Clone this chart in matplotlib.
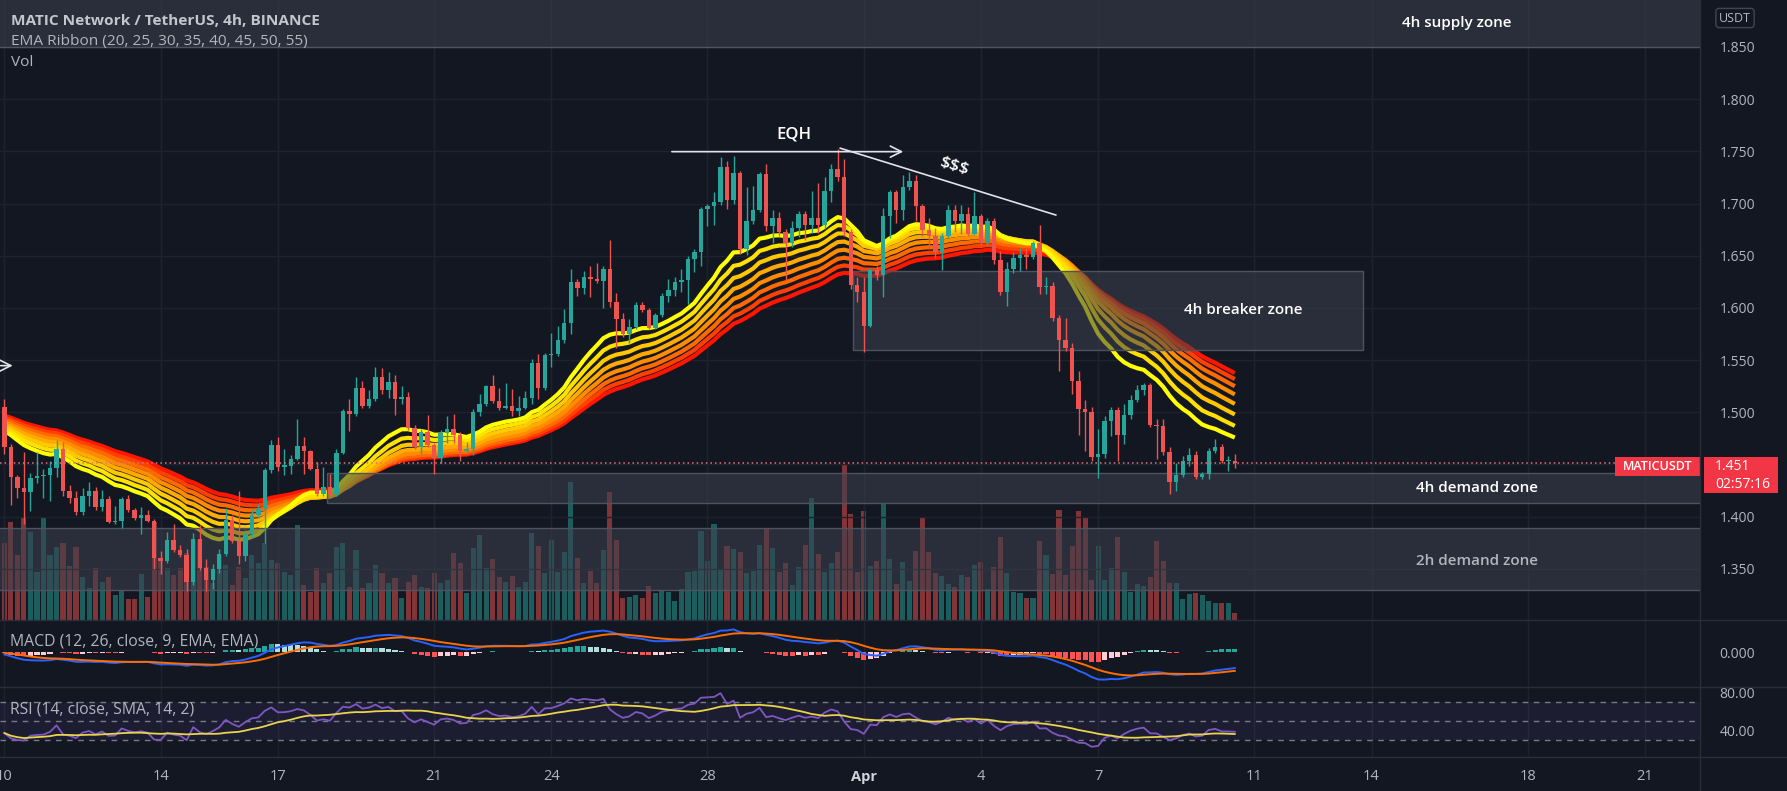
import numpy as np
import matplotlib
matplotlib.use("Agg")
import matplotlib.pyplot as plt
from matplotlib.patches import Rectangle
from matplotlib.transforms import blended_transform_factory

# ---- data (4h candles from Mar 10 00:00) ----
first_open = 1.505
close = [
    1.467, 1.438, 1.427, 1.424, 1.437, 1.439, 1.440, 1.447, 1.465, 1.425,
    1.418, 1.404, 1.420, 1.425, 1.409, 1.417, 1.395, 1.396, 1.417, 1.406,
    1.399, 1.402, 1.396, 1.360, 1.358, 1.378, 1.368, 1.363, 1.337, 1.379,
    1.351, 1.339, 1.350, 1.364, 1.397, 1.377, 1.362, 1.383, 1.402, 1.407,
    1.445, 1.469, 1.448, 1.449, 1.455, 1.468, 1.463, 1.446, 1.422, 1.428,
    1.422, 1.461, 1.501, 1.498, 1.523, 1.506, 1.513, 1.534, 1.521, 1.529,
    1.513, 1.515, 1.485, 1.467, 1.481, 1.469, 1.456, 1.480, 1.484, 1.478,
    1.463, 1.465, 1.500, 1.508, 1.525, 1.511, 1.504, 1.506, 1.501, 1.504,
    1.514, 1.547, 1.523, 1.555, 1.556, 1.569, 1.586, 1.625, 1.619, 1.630,
    1.628, 1.626, 1.637, 1.606, 1.589, 1.575, 1.582, 1.603, 1.598, 1.581,
    1.593, 1.611, 1.617, 1.625, 1.627, 1.647, 1.654, 1.695, 1.698, 1.701,
    1.735, 1.703, 1.729, 1.656, 1.683, 1.694, 1.728, 1.678, 1.686, 1.673,
    1.662, 1.677, 1.690, 1.679, 1.686, 1.679, 1.712, 1.733, 1.725, 1.673,
    1.622, 1.615, 1.583, 1.636, 1.632, 1.688, 1.711, 1.694, 1.716, 1.722,
    1.698, 1.675, 1.669, 1.654, 1.669, 1.694, 1.683, 1.690, 1.671, 1.688,
    1.662, 1.683, 1.646, 1.615, 1.637, 1.648, 1.651, 1.649, 1.662, 1.620,
    1.621, 1.590, 1.569, 1.562, 1.530, 1.503, 1.500, 1.457, 1.460, 1.492,
    1.502, 1.478, 1.497, 1.512, 1.521, 1.526, 1.488, 1.487, 1.462, 1.433,
    1.440, 1.453, 1.459, 1.438, 1.441, 1.463, 1.467, 1.453, 1.453, 1.451,
]
high = [
    1.513, 1.470, 1.440, 1.462, 1.442, 1.462, 1.446, 1.453, 1.473, 1.472,
    1.430, 1.425, 1.427, 1.433, 1.428, 1.426, 1.420, 1.410, 1.419, 1.421,
    1.408, 1.409, 1.406, 1.398, 1.367, 1.385, 1.393, 1.373, 1.369, 1.384,
    1.392, 1.359, 1.355, 1.369, 1.408, 1.402, 1.425, 1.387, 1.407, 1.412,
    1.447, 1.473, 1.476, 1.465, 1.459, 1.494, 1.476, 1.464, 1.452, 1.448,
    1.441, 1.465, 1.503, 1.513, 1.534, 1.530, 1.521, 1.543, 1.542, 1.539,
    1.536, 1.525, 1.519, 1.488, 1.484, 1.497, 1.471, 1.483, 1.496, 1.498,
    1.481, 1.472, 1.503, 1.518, 1.526, 1.536, 1.523, 1.528, 1.522, 1.516,
    1.520, 1.551, 1.556, 1.557, 1.576, 1.583, 1.599, 1.637, 1.628, 1.635,
    1.640, 1.643, 1.640, 1.665, 1.614, 1.595, 1.589, 1.606, 1.606, 1.600,
    1.595, 1.614, 1.628, 1.630, 1.637, 1.650, 1.656, 1.697, 1.700, 1.711,
    1.745, 1.741, 1.746, 1.731, 1.716, 1.717, 1.730, 1.738, 1.694, 1.692,
    1.676, 1.683, 1.693, 1.693, 1.712, 1.720, 1.725, 1.738, 1.752, 1.743,
    1.676, 1.630, 1.630, 1.638, 1.640, 1.696, 1.713, 1.713, 1.727, 1.730,
    1.727, 1.700, 1.686, 1.677, 1.672, 1.699, 1.699, 1.699, 1.697, 1.711,
    1.690, 1.686, 1.686, 1.655, 1.644, 1.654, 1.657, 1.657, 1.664, 1.679,
    1.630, 1.625, 1.593, 1.590, 1.566, 1.540, 1.512, 1.505, 1.484, 1.496,
    1.505, 1.505, 1.508, 1.517, 1.526, 1.528, 1.528, 1.494, 1.494, 1.467,
    1.451, 1.458, 1.466, 1.463, 1.443, 1.466, 1.474, 1.470, 1.458, 1.460,
]
low = [
    1.460, 1.411, 1.418, 1.393, 1.405, 1.432, 1.418, 1.415, 1.438, 1.420,
    1.413, 1.402, 1.402, 1.410, 1.406, 1.405, 1.394, 1.393, 1.389, 1.404,
    1.397, 1.383, 1.395, 1.350, 1.345, 1.356, 1.366, 1.361, 1.329, 1.335,
    1.349, 1.329, 1.331, 1.346, 1.362, 1.375, 1.355, 1.358, 1.380, 1.399,
    1.375, 1.442, 1.444, 1.440, 1.441, 1.454, 1.441, 1.445, 1.420, 1.420,
    1.420, 1.420, 1.460, 1.482, 1.496, 1.504, 1.504, 1.511, 1.518, 1.514,
    1.497, 1.508, 1.483, 1.465, 1.460, 1.467, 1.441, 1.451, 1.471, 1.471,
    1.453, 1.461, 1.459, 1.496, 1.506, 1.509, 1.502, 1.503, 1.496, 1.496,
    1.503, 1.508, 1.513, 1.521, 1.543, 1.554, 1.566, 1.575, 1.611, 1.613,
    1.610, 1.624, 1.600, 1.601, 1.562, 1.572, 1.566, 1.580, 1.596, 1.580,
    1.580, 1.591, 1.606, 1.611, 1.615, 1.604, 1.634, 1.640, 1.678, 1.679,
    1.699, 1.695, 1.700, 1.652, 1.651, 1.680, 1.692, 1.674, 1.662, 1.669,
    1.627, 1.658, 1.668, 1.665, 1.672, 1.672, 1.676, 1.701, 1.722, 1.669,
    1.618, 1.606, 1.558, 1.582, 1.627, 1.610, 1.667, 1.681, 1.684, 1.713,
    1.683, 1.669, 1.656, 1.648, 1.636, 1.667, 1.673, 1.671, 1.669, 1.670,
    1.660, 1.659, 1.642, 1.612, 1.602, 1.633, 1.635, 1.637, 1.647, 1.613,
    1.613, 1.587, 1.540, 1.559, 1.518, 1.478, 1.463, 1.453, 1.437, 1.456,
    1.477, 1.453, 1.470, 1.494, 1.510, 1.517, 1.486, 1.455, 1.459, 1.422,
    1.425, 1.438, 1.449, 1.436, 1.436, 1.436, 1.461, 1.451, 1.444, 1.447,
]
volume = [
    7.7, 9.8, 6.5, 10.2, 8.8, 4.8, 10.3, 6.5, 7.3, 7.7,
    5.4, 7.3, 4.3, 3.2, 5.2, 3.8, 4.3, 2.5, 3.0, 2.1,
    2.1, 4.6, 2.3, 9.8, 6.2, 5.2, 4.5, 5.2, 6.7, 8.1,
    8.0, 5.3, 3.7, 6.5, 5.5, 3.5, 5.3, 4.2, 6.5, 5.7,
    7.7, 6.0, 5.7, 4.8, 4.5, 9.5, 3.5, 2.8, 5.2, 3.7,
    4.7, 7.3, 7.7, 3.3, 7.0, 3.2, 3.7, 5.5, 4.7, 3.7,
    4.2, 2.2, 3.8, 4.5, 3.3, 3.2, 4.7, 3.7, 4.0, 6.7,
    5.7, 2.7, 7.2, 8.5, 5.2, 6.1, 4.3, 3.8, 4.4, 3.3,
    3.8, 8.7, 7.4, 4.7, 8.0, 4.8, 6.8, 13.8, 6.2, 3.7,
    4.9, 3.7, 7.0, 12.8, 8.0, 2.2, 2.3, 2.5, 2.2, 3.4,
    2.7, 3.0, 2.8, 1.9, 3.1, 4.8, 4.9, 8.9, 5.9, 9.6,
    5.1, 7.4, 7.1, 6.8, 4.7, 4.9, 7.5, 9.2, 7.2, 4.8,
    5.7, 3.5, 5.3, 7.5, 12.2, 6.6, 4.8, 5.7, 6.8, 15.5,
    10.6, 4.8, 10.9, 5.4, 5.9, 11.7, 6.1, 3.6, 5.8, 3.9,
    6.9, 10.2, 6.8, 4.7, 4.4, 3.6, 3.3, 4.5, 4.3, 5.5,
    5.8, 3.1, 5.3, 8.3, 4.7, 2.8, 2.7, 2.2, 2.2, 7.9,
    6.5, 4.6, 11.0, 4.5, 7.4, 10.9, 10.2, 4.0, 7.4, 4.0,
    5.2, 8.3, 4.8, 2.8, 3.6, 3.4, 4.3, 7.9, 5.9, 3.7,
    3.7, 2.1, 2.6, 2.7, 2.5, 1.9, 1.7, 1.7, 1.7, 0.7,
]

ribbon_spans = [20, 25, 30, 35, 40, 45, 50, 55]
ribbon_seed = [1.484, 1.486, 1.488, 1.490, 1.492, 1.494, 1.496, 1.498]
ribbon_colors = ["#ffff00", "#ffe100", "#ffc800", "#ffaa00",
                 "#ff8c00", "#ff6a00", "#ff4000", "#ff1500"]
macd_seed = (1.487, 1.490, -0.001)      # ema12, ema26, signal at start
rsi_seed = (0.0050, 0.0055)             # avg gain, avg loss at start

date_pos = [0, 24, 42, 66, 84, 108, 132, 150, 168, 192, 210, 234, 252]
date_labels = ["10", "14", "17", "21", "24", "28", "Apr", "4", "7", "11", "14", "18", "21"]
price_ticks = [1.35, 1.40, 1.45, 1.50, 1.55, 1.60, 1.65, 1.70, 1.75, 1.80, 1.85]
price_tick_labels = ["1.350", "1.400", "", "1.500", "1.550", "1.600", "1.650",
                     "1.700", "1.750", "1.800", "1.850"]

# zones: (label, x_start, x_end, price_low, price_high)
zones = [
    ("4h supply zone", -1, 262, 1.850, 1.90),
    ("4h breaker zone", 130.4, 208.7, 1.560, 1.635),
    ("4h demand zone", 49.6, 262, 1.413, 1.442),
    ("2h demand zone", -1, 262, 1.330, 1.389),
]
zone_labels = [
    ("4h supply zone", 223.1, 1.8727, "#ffffff"),
    ("4h breaker zone", 190.3, 1.5976, "#ffffff"),
    ("4h demand zone", 226.2, 1.4273, "#ffffff"),
    ("2h demand zone", 226.2, 1.3574, "#b2b5be"),
]

# ---- indicators ----
n = len(close)
idx = np.arange(n)
c = np.array(close)
o = np.array([first_open] + close[:-1])
h = np.maximum(np.array(high), np.maximum(o, c))
l = np.minimum(np.array(low), np.minimum(o, c))
up = c >= o


def ema(values, span, seed):
    alpha = 2.0 / (span + 1)
    out = []
    prev = seed
    for v in values:
        prev = prev + alpha * (v - prev)
        out.append(prev)
    return np.array(out)


ribbon = [ema(c, s, seed) for s, seed in zip(ribbon_spans, ribbon_seed)]

macd = ema(c, 12, macd_seed[0]) - ema(c, 26, macd_seed[1])
signal = ema(macd, 9, macd_seed[2])
hist = macd - signal

gain, loss = rsi_seed
rsi = []
prev = first_open
for v in c:
    ch = v - prev
    gain = (gain * 13 + max(ch, 0)) / 14
    loss = (loss * 13 + max(-ch, 0)) / 14
    rsi.append(100 - 100 / (1 + gain / loss))
    prev = v
rsi = np.array(rsi)
rsi_ma = np.array([rsi[max(0, k - 13):k + 1].mean() for k in range(n)])

# ---- style ----
BG = "#131722"
GRID = "#1e222d"
SEP = "#2a2e39"
TXT = "#b2b5be"
GREEN = "#26a69a"
RED = "#ef5350"
plt.rcParams["font.family"] = ["Open Sans", "DejaVu Sans"]

W, H = 1787, 791
fig = plt.figure(figsize=(W / 100, H / 100), dpi=100, facecolor=BG)


def rect(top, bottom, right=1700):
    return [0, 1 - bottom / H, right / W, (bottom - top) / H]


ax_vol = fig.add_axes(rect(0, 620))
ax = fig.add_axes(rect(0, 620), sharex=ax_vol)
ax_macd = fig.add_axes(rect(620, 687), sharex=ax_vol)
ax_rsi = fig.add_axes(rect(687, 757), sharex=ax_vol)

for a in (ax_vol, ax, ax_macd, ax_rsi):
    a.set_facecolor(BG)
    for s in a.spines.values():
        s.set_visible(False)
    a.set_xticks(date_pos)
    a.tick_params(axis="x", length=0, labelbottom=False)
    a.tick_params(axis="y", length=0, labelcolor=TXT, labelsize=10, pad=14)
    a.yaxis.tick_right()
    a.grid(axis="x", color=GRID, lw=1)
    a.set_axisbelow(True)
ax.patch.set_visible(False)
ax.set_xlim(-0.68, 260.46)

# volume
ax_vol.bar(idx, volume, width=0.78,
           color=np.where(up, "#26a69a80", "#ef535080"), zorder=1)
ax_vol.set_ylim(0, 62)
ax_vol.set_yticks([])

# main price pane
ax.set_ylim(1.3010, 1.8950)
ax.set_yticks(price_ticks)
ax.set_yticklabels(price_tick_labels)
ax.grid(axis="y", color=GRID, lw=1)

for k in reversed(range(len(ribbon))):
    ax.plot(idx, ribbon[k], color=ribbon_colors[k], lw=3.0,
            solid_capstyle="butt", zorder=2)

for name, x0, x1, p0, p1 in zones:
    ax.add_patch(Rectangle((x0, p0), x1 - x0, p1 - p0, facecolor=(0.243, 0.259, 0.306, 0.55),
                           edgecolor="#4f535f", lw=1, zorder=3))
for name, x, y, col in zone_labels:
    ax.text(x, y, name, color=col, fontsize=11, fontweight="semibold",
            ha="center", va="center", zorder=6)

col = np.where(up, GREEN, RED)
ax.vlines(idx, l, h, colors=col, lw=1, zorder=4)
ax.bar(idx, np.maximum(np.abs(c - o), 0.0012), bottom=np.minimum(o, c),
       width=0.68, color=col, zorder=4)

ax.axhline(c[-1], color="#e0737d", ls=(0, (1, 2)), lw=1.1, zorder=5)

# drawings
ax.annotate("", xy=(138.5, 1.7497), xytext=(102.1, 1.7497),
            arrowprops=dict(arrowstyle="->", color="#e0e3eb", lw=1.2, mutation_scale=20),
            zorder=6)
ax.text(121.2, 1.7666, "EQH", color="#ffffff", fontsize=12, fontweight="semibold",
        ha="center", va="center", zorder=6)
ax.plot([128.4, 161.5], [1.7530, 1.6890], color="#e0e3eb", lw=1.2, zorder=6)
ax.text(145.8, 1.7353, "$$$", color="#ffffff", fontsize=12.5, fontweight="semibold",
        rotation=-17, ha="center", va="center", zorder=6)
ax.annotate("", xy=(1.7, 1.5447), xytext=(-1.0, 1.5447),
            arrowprops=dict(arrowstyle="->", color="#e0e3eb", lw=1.2, mutation_scale=20),
            zorder=6, annotation_clip=False)

# price labels on the right
tr = blended_transform_factory(ax.transAxes, ax.transData)
ax.add_patch(Rectangle((1.0024, c[-1] - 0.0287), 0.0435, 0.0344, transform=tr,
                       facecolor="#f23645", edgecolor="none", clip_on=False, zorder=10))
ax.add_patch(Rectangle((0.950, c[-1] - 0.0125), 0.050, 0.0182, transform=tr,
                       facecolor="#f23645", edgecolor="none", clip_on=False, zorder=10))
ax.text(0.975, c[-1] - 0.0034, "MATICUSDT", transform=tr, color="white", fontsize=9,
        fontweight="semibold", ha="center", va="center", zorder=11, clip_on=False)
ax.text(1.0088, c[-1] - 0.0030, f"{c[-1]:.3f}", transform=tr, color="white", fontsize=10,
        ha="left", va="center", zorder=11, clip_on=False)
ax.text(1.0088, c[-1] - 0.0200, "02:57:16", transform=tr, color="white", fontsize=10,
        ha="left", va="center", zorder=11, clip_on=False)

# MACD pane
hcol = []
for k in range(n):
    prev_h = hist[k - 1] if k else hist[k]
    if hist[k] >= 0:
        hcol.append("#26a69a" if hist[k] >= prev_h else "#b2dfdb")
    else:
        hcol.append("#ff5252" if hist[k] <= prev_h else "#ffcdd2")
ax_macd.bar(idx, hist, width=0.78, color=hcol, zorder=2)
ax_macd.plot(idx, macd, color="#2962ff", lw=1.4, zorder=3)
ax_macd.plot(idx, signal, color="#ff6d00", lw=1.4, zorder=3)
k = -macd.min() / 27.6
ax_macd.set_ylim(-35 * k, 32 * k)
ax_macd.set_yticks([0.0])
ax_macd.set_yticklabels(["0.000"])

# RSI pane
ax_rsi.set_ylim(11.7, 86.4)
ax_rsi.axhspan(30, 70, color="#7e57c2", alpha=0.1, lw=0, zorder=1)
for lvl in (70, 50, 30):
    ax_rsi.axhline(lvl, color="#787b86", ls=(0, (4, 4)), lw=1, zorder=1)
ax_rsi.plot(idx, rsi, color="#7e57c2", lw=1.3, zorder=3)
ax_rsi.plot(idx, rsi_ma, color="#e8d44d", lw=1.3, zorder=3)
ax_rsi.set_yticks([80, 40])
ax_rsi.set_yticklabels(["80.00", "40.00"])
ax_rsi.tick_params(axis="x", labelbottom=True, labelcolor=TXT, labelsize=10.5, pad=9)
ax_rsi.set_xticklabels(date_labels)
for lab in ax_rsi.get_xticklabels():
    if lab.get_text() == "Apr":
        lab.set_fontweight("bold")
        lab.set_color("#d1d4dc")

# legends / headers
fig.text(11 / W, 1 - 21 / H, "MATIC Network / TetherUS, 4h, BINANCE", color="#c3c6ce",
         fontsize=11.1, fontweight="bold", va="center")
fig.text(11 / W, 1 - 42 / H, "EMA Ribbon (20, 25, 30, 35, 40, 45, 50, 55)", color=TXT,
         fontsize=11.1, va="center")
fig.text(11 / W, 1 - 62 / H, "Vol", color=TXT, fontsize=11.1, va="center")
fig.text(10 / W, 1 - 642 / H, "MACD (12, 26, close, 9, EMA, EMA)", color=TXT,
         fontsize=11.3, va="center")
fig.text(10 / W, 1 - 709 / H, "RSI (14, close, SMA, 14, 2)", color=TXT,
         fontsize=11.3, va="center")
fig.text(1735 / W, 1 - 18 / H, "USDT", color=TXT, fontsize=9, ha="center", va="center",
         bbox=dict(boxstyle="round,pad=0.25", fc=BG, ec="#434651", lw=1))

# separators
for yy in (620, 687, 757):
    fig.add_artist(plt.Line2D([0, 1], [1 - yy / H] * 2, color=SEP, lw=1))
fig.add_artist(plt.Line2D([1700 / W] * 2, [0, 1], color=SEP, lw=1))

fig.savefig("out.png", dpi=100, facecolor=BG)
